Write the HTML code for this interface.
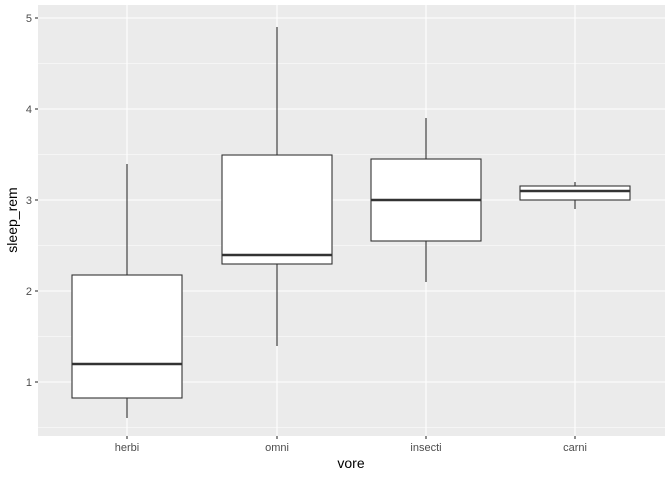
<!DOCTYPE html>
<html><head><style>body{margin:0;background:#fff}svg{display:block}</style></head><body>
<svg width="672" height="480" xmlns="http://www.w3.org/2000/svg" font-family="Liberation Sans, sans-serif">
<rect x="38" y="5" width="627" height="431" fill="#ebebeb"/>
<g stroke="#fff" stroke-width="0.55">
<line x1="38" x2="665" y1="427.5" y2="427.5"/><line x1="38" x2="665" y1="336.5" y2="336.5"/><line x1="38" x2="665" y1="245.5" y2="245.5"/><line x1="38" x2="665" y1="154.5" y2="154.5"/><line x1="38" x2="665" y1="63.5" y2="63.5"/>
</g>
<g stroke="#fff" stroke-width="1.1">
<line x1="38" x2="665" y1="382" y2="382"/><line x1="38" x2="665" y1="291" y2="291"/><line x1="38" x2="665" y1="200" y2="200"/><line x1="38" x2="665" y1="109" y2="109"/><line x1="38" x2="665" y1="18" y2="18"/>
<line x1="127" x2="127" y1="5" y2="436"/><line x1="277" x2="277" y1="5" y2="436"/><line x1="426" x2="426" y1="5" y2="436"/><line x1="575" x2="575" y1="5" y2="436"/>
</g>
<g stroke="#333" stroke-width="1.1" fill="#fff">
<line x1="127" x2="127" y1="418" y2="164"/><rect x="72" y="275" width="110" height="123"/><line x1="72" x2="182" y1="364" y2="364" stroke-width="2.5"/>
<line x1="277" x2="277" y1="346" y2="27"/><rect x="222" y="155" width="110" height="109"/><line x1="222" x2="332" y1="255" y2="255" stroke-width="2.5"/>
<line x1="426" x2="426" y1="282" y2="118"/><rect x="371" y="159" width="110" height="82"/><line x1="371" x2="481" y1="200" y2="200" stroke-width="2.5"/>
<line x1="575" x2="575" y1="209" y2="182"/><rect x="520" y="186" width="110" height="14"/><line x1="520" x2="630" y1="191" y2="191" stroke-width="2.5"/>
</g>
<g stroke="#333" stroke-width="1.1">
<line x1="35" x2="38" y1="382" y2="382"/><line x1="35" x2="38" y1="291" y2="291"/><line x1="35" x2="38" y1="200" y2="200"/><line x1="35" x2="38" y1="109" y2="109"/><line x1="35" x2="38" y1="18" y2="18"/>
<line x1="127" x2="127" y1="436" y2="439"/><line x1="277" x2="277" y1="436" y2="439"/><line x1="426" x2="426" y1="436" y2="439"/><line x1="575" x2="575" y1="436" y2="439"/>
</g>
<g font-size="11" fill="#4d4d4d" text-anchor="end">
<text x="32" y="386">1</text><text x="32" y="295">2</text><text x="32" y="204">3</text><text x="32" y="113">4</text><text x="32" y="22">5</text>
</g>
<g font-size="11" fill="#4d4d4d" text-anchor="middle">
<text x="127" y="451">herbi</text><text x="277" y="451">omni</text><text x="426" y="451">insecti</text><text x="575" y="451">carni</text>
</g>
<text x="351" y="468" font-size="14" text-anchor="middle" fill="#000">vore</text>
<text transform="translate(17,220) rotate(-90)" font-size="14" text-anchor="middle" fill="#000">sleep_rem</text>
</svg>
</body></html>
